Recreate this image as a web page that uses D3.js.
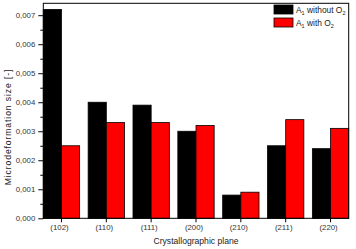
<!DOCTYPE html>
<html>
<head>
    <meta charset="UTF-8">
    <title></title>
    <style>
        body { margin: 0; background: #fff; }
        svg { display: block; font-family: "Liberation Sans", Arial, sans-serif; }
    </style>
    <script src="https://d3js.org/d3.v7.min.js"></script>
</head>
<body>
<div id="chart"></div>
<script>
    var planes = ['(102)', '(110)', '(111)', '(200)', '(210)', '(211)', '(220)'];
    var series = ['without', 'with'];
    var withoutO2 = [0.0072, 0.0040, 0.0039, 0.0030, 0.0008, 0.0025, 0.0024];
    var withO2 = [0.0025, 0.0033, 0.0033, 0.0032, 0.0009, 0.0034, 0.0031];
    var yTicks = [0, 0.001, 0.002, 0.003, 0.004, 0.005, 0.006, 0.007];
    var yMinor = [0.0005, 0.0015, 0.0025, 0.0035, 0.0045, 0.0055, 0.0065];

    var width = 356, height = 249;
    var pLeft = 43.3, pRight = 348.7, pTop = 3.3, pBottom = 218.3;

    var svg = d3.select('#chart').append('svg')
            .attr('width', width)
            .attr('height', height);

    var x = d3.scaleBand().domain(planes).range([pLeft, pRight])
            .paddingInner(0.19).paddingOuter(0);
    var x1 = d3.scaleBand().domain(series).range([0, x.bandwidth()]);
    var y = d3.scaleLinear().domain([0, 0.00741]).range([pBottom, pTop]);
    var color = {without: '#000000', with: '#ff0000'};

    var fmt = function (d) { return d3.format('.3f')(d).replace('.', ','); };

    var rows = planes.map(function (p, i) {
        return {plane: p, without: withoutO2[i], with: withO2[i]};
    });

    // bars
    var g = svg.selectAll('g.grp').data(rows).enter().append('g')
            .attr('class', 'grp')
            .attr('transform', function (d) { return 'translate(' + x(d.plane) + ',0)'; });
    g.selectAll('rect').data(function (d) {
        return series.map(function (s) { return {key: s, value: d[s]}; });
    }).enter().append('rect')
            .attr('x', function (d) { return x1(d.key); })
            .attr('y', function (d) { return y(d.value); })
            .attr('width', x1.bandwidth())
            .attr('height', function (d) { return pBottom - y(d.value); })
            .attr('fill', function (d) { return color[d.key]; })
            .attr('stroke', '#000')
            .attr('stroke-width', 0.8);

    // frame
    svg.append('rect')
            .attr('x', pLeft).attr('y', pTop)
            .attr('width', pRight - pLeft).attr('height', pBottom - pTop)
            .attr('fill', 'none').attr('stroke', '#000').attr('stroke-width', 1);

    // y axis
    var yAxis = svg.append('g').attr('transform', 'translate(' + pLeft + ',0)')
            .call(d3.axisLeft(y).tickValues(yTicks).tickFormat(fmt).tickSize(5).tickPadding(3));
    yAxis.select('.domain').remove();
    yAxis.selectAll('text').attr('font-size', 7.8).attr('fill', '#333')
            .attr('font-family', '"Liberation Sans", Arial, sans-serif');
    var yAxisMinor = svg.append('g').attr('transform', 'translate(' + pLeft + ',0)')
            .call(d3.axisLeft(y).tickValues(yMinor).tickFormat('').tickSize(3));
    yAxisMinor.select('.domain').remove();

    // x axis
    var xAxis = svg.append('g').attr('transform', 'translate(0,' + pBottom + ')')
            .call(d3.axisBottom(x).tickSize(4).tickPadding(2));
    xAxis.select('.domain').remove();
    xAxis.selectAll('text').attr('font-size', 7.8).attr('fill', '#333').attr('dx', -2)
            .attr('font-family', '"Liberation Sans", Arial, sans-serif');

    // axis titles
    svg.append('text')
            .attr('x', 196).attr('y', 244)
            .attr('text-anchor', 'middle')
            .attr('font-size', 8.6).attr('fill', '#222')
            .text('Crystallographic plane');
    svg.append('text')
            .attr('transform', 'translate(11,127) rotate(-90)')
            .attr('text-anchor', 'middle')
            .attr('font-size', 8.6).attr('fill', '#222')
            .attr('letter-spacing', 0.9)
            .text('Microdeformation size [-]');

    // legend
    var legend = svg.append('g').attr('transform', 'translate(274,5)');
    var labels = [{key: 'without', text: ' without O'}, {key: 'with', text: ' with O'}];
    labels.forEach(function (l, i) {
        var row = legend.append('g').attr('transform', 'translate(0,' + (i * 13) + ')');
        row.append('rect').attr('width', 19).attr('height', 9)
                .attr('fill', color[l.key]).attr('stroke', '#000').attr('stroke-width', 0.8);
        var t = row.append('text').attr('x', 22).attr('y', 8)
                .attr('font-size', 8.4).attr('fill', '#222');
        t.append('tspan').text('A');
        t.append('tspan').attr('font-size', 5.5).attr('dy', 2).text('1');
        t.append('tspan').attr('dy', -2).text(l.text);
        t.append('tspan').attr('font-size', 5.5).attr('dy', 2).text('2');
    });
</script>
</body>
</html>
